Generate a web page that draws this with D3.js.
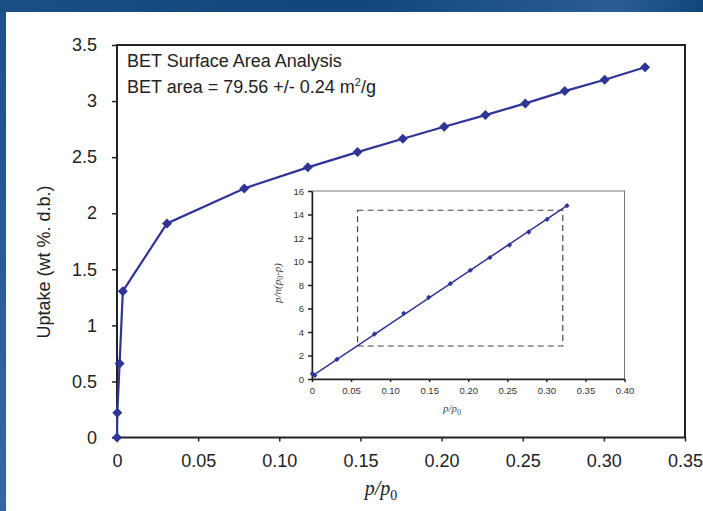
<!DOCTYPE html>
<html>
<head>
<meta charset="utf-8">
<script src="https://cdn.jsdelivr.net/npm/d3@7"></script>
<style>
  body { margin: 0; background: #fff; }
  svg { display: block; }
  .tick text { font-family: "Liberation Sans", Arial, sans-serif; }
</style>
</head>
<body>
<svg width="703" height="511"></svg>
<script>
// DATA

// main isotherm: p/p0 vs uptake (wt %)
var mainX = [0, 0.0002, 0.0016, 0.0036, 0.0308, 0.0784, 0.1176, 0.1482, 0.1761, 0.2016, 0.2270, 0.2516, 0.2759, 0.3005, 0.3254];
var mainY = [0, 0.22, 0.66, 1.305, 1.909, 2.221, 2.409, 2.545, 2.664, 2.771, 2.875, 2.979, 3.089, 3.190, 3.301];

var xTicks = [0, 0.05, 0.10, 0.15, 0.20, 0.25, 0.30, 0.35];
var xTickLabels = ["0", "0.05", "0.10", "0.15", "0.20", "0.25", "0.30", "0.35"];
var yTicks = [0, 0.5, 1, 1.5, 2, 2.5, 3, 3.5];
var yTickLabels = ["0", "0.5", "1", "1.5", "2", "2.5", "3", "3.5"];

// inset BET plot
var insetX = [0.0005, 0.0035, 0.0319, 0.0800, 0.1174, 0.1494, 0.1770, 0.2026, 0.2277, 0.2528, 0.2774, 0.3009, 0.3264];
var insetY = [0.45, 0.3, 1.67, 3.83, 5.59, 6.95, 8.11, 9.25, 10.33, 11.40, 12.51, 13.59, 14.75];
var fitX = [0, 0.3264];
var fitY = [0.25, 14.75];
var rangeX = [0.0583, 0.321];   // dashed fit window
var rangeY = [2.81, 14.36];

var insetXTicks = [0, 0.05, 0.10, 0.15, 0.20, 0.25, 0.30, 0.35, 0.40];
var insetXTickLabels = ["0", "0.05", "0.10", "0.15", "0.20", "0.25", "0.30", "0.35", "0.40"];
var insetYTicks = [0, 2, 4, 6, 8, 10, 12, 14, 16];
var insetYTickLabels = ["0", "2", "4", "6", "8", "10", "12", "14", "16"];

var blue = "#2f3596";

// SETUP

var svg = d3.select("svg");
var defs = svg.append("defs");

var band = defs.append("linearGradient").attr("id", "band");
band.append("stop").attr("offset", "0%").attr("stop-color", "#1a4f86");
band.append("stop").attr("offset", "50%").attr("stop-color", "#104679");
band.append("stop").attr("offset", "88%").attr("stop-color", "#2a5e94");
band.append("stop").attr("offset", "100%").attr("stop-color", "#0f4678");

var strip = defs.append("linearGradient").attr("id", "strip")
    .attr("x1", 0).attr("y1", 0).attr("x2", 0).attr("y2", 1);
strip.append("stop").attr("offset", "0%").attr("stop-color", "#1c5088");
strip.append("stop").attr("offset", "100%").attr("stop-color", "#3867a0");

svg.append("rect").attr("x", 0).attr("y", 0).attr("width", 703).attr("height", 511).attr("fill", "#fff");
svg.append("rect").attr("x", 0).attr("y", 0).attr("width", 6).attr("height", 511).attr("fill", "url(#strip)");
svg.append("rect").attr("x", 0).attr("y", 0).attr("width", 703).attr("height", 12).attr("fill", "url(#band)");

var diamond = function (s) {
    return d3.symbol().type(d3.symbolSquare).size(s)();
};

// MAIN CHART

var m = { left: 117, top: 45, right: 685, bottom: 437.5 };
var x = d3.scaleLinear().domain([0, 0.35]).range([m.left, m.right]);
var y = d3.scaleLinear().domain([0, 3.5]).range([m.bottom, m.top]);

var xAxis = svg.append("g")
    .attr("transform", "translate(0," + m.bottom + ")")
    .call(d3.axisBottom(x).tickValues(xTicks).tickSize(4).tickPadding(13)
        .tickFormat(function (d, i) { return xTickLabels[i]; }));

var yAxis = svg.append("g")
    .attr("transform", "translate(" + m.left + ",0)")
    .call(d3.axisLeft(y).tickValues(yTicks).tickSize(5).tickPadding(15)
        .tickFormat(function (d, i) { return yTickLabels[i]; }));

[xAxis, yAxis].forEach(function (a) {
    a.select(".domain").remove();
    a.selectAll(".tick line").attr("stroke", "#222").attr("stroke-width", 1.5);
    a.selectAll(".tick text").attr("font-size", 18).attr("fill", "#222");
});

svg.append("rect")
    .attr("x", m.left).attr("y", m.top)
    .attr("width", m.right - m.left).attr("height", m.bottom - m.top)
    .attr("fill", "none").attr("stroke", "#222").attr("stroke-width", 2);

svg.append("text")
    .attr("transform", "translate(50," + 262 + ") rotate(-90)")
    .attr("text-anchor", "middle")
    .attr("font-family", "Liberation Sans, Arial, sans-serif")
    .attr("font-size", 18).attr("fill", "#222")
    .text("Uptake (wt %. d.b.)");

var xt = svg.append("text")
    .attr("x", 381).attr("y", 495)
    .attr("text-anchor", "middle")
    .attr("font-family", "Liberation Serif, Times New Roman, serif")
    .attr("font-style", "italic").attr("font-size", 20).attr("fill", "#222");
xt.append("tspan").text("p/p");
xt.append("tspan").attr("font-size", 14).attr("dy", 5).attr("font-style", "normal").text("0");

var note = svg.append("g")
    .attr("font-family", "Liberation Sans, Arial, sans-serif")
    .attr("font-size", 18).attr("fill", "#222");
note.append("text").attr("x", 127).attr("y", 67).text("BET Surface Area Analysis");
var l2 = note.append("text").attr("x", 127).attr("y", 93);
l2.append("tspan").text("BET area = 79.56 +/- 0.24 m");
l2.append("tspan").attr("font-size", 11).attr("dy", -7).text("2");
l2.append("tspan").attr("dy", 7).text("/g");

var mainPts = mainX.map(function (d, i) { return [d, mainY[i]]; });

svg.append("path")
    .datum(mainPts)
    .attr("fill", "none").attr("stroke", blue).attr("stroke-width", 2.2)
    .attr("d", d3.line().x(function (d) { return x(d[0]); }).y(function (d) { return y(d[1]); }));

svg.append("g").selectAll("path")
    .data(mainPts)
    .enter().append("path")
    .attr("d", diamond(50))
    .attr("fill", blue)
    .attr("transform", function (d) { return "translate(" + x(d[0]) + "," + y(d[1]) + ") rotate(45)"; });

// INSET

var n = { left: 312, top: 191, right: 624.5, bottom: 379 };
var ix = d3.scaleLinear().domain([0, 0.40]).range([n.left, n.right]);
var iy = d3.scaleLinear().domain([0, 16]).range([n.bottom, n.top]);

svg.append("rect")
    .attr("x", n.left).attr("y", n.top)
    .attr("width", n.right - n.left).attr("height", n.bottom - n.top)
    .attr("fill", "#fff").attr("stroke", "#777").attr("stroke-width", 1);

var ixAxis = svg.append("g")
    .attr("transform", "translate(0," + n.bottom + ")")
    .call(d3.axisBottom(ix).tickValues(insetXTicks).tickSizeInner(3).tickSizeOuter(0).tickPadding(5)
        .tickFormat(function (d, i) { return insetXTickLabels[i]; }));

var iyAxis = svg.append("g")
    .attr("transform", "translate(" + n.left + ",0)")
    .call(d3.axisLeft(iy).tickValues(insetYTicks).tickSizeInner(4).tickSizeOuter(0).tickPadding(4)
        .tickFormat(function (d, i) { return insetYTickLabels[i]; }));

[ixAxis, iyAxis].forEach(function (a) {
    a.select(".domain").attr("stroke", "#222").attr("stroke-width", 1.5);
    a.selectAll(".tick line").attr("stroke", "#222").attr("stroke-width", 1.5);
    a.selectAll(".tick text").attr("font-size", 9.5).attr("fill", "#333");
});

svg.append("rect")
    .attr("x", ix(rangeX[0])).attr("y", iy(rangeY[1]))
    .attr("width", ix(rangeX[1]) - ix(rangeX[0])).attr("height", iy(rangeY[0]) - iy(rangeY[1]))
    .attr("fill", "none").attr("stroke", "#444").attr("stroke-width", 1.2)
    .attr("stroke-dasharray", "6,4");

svg.append("line")
    .attr("x1", ix(fitX[0])).attr("y1", iy(fitY[0]))
    .attr("x2", ix(fitX[1])).attr("y2", iy(fitY[1]))
    .attr("stroke", blue).attr("stroke-width", 1.5);

svg.append("g").selectAll("path")
    .data(insetX)
    .enter().append("path")
    .attr("d", diamond(14))
    .attr("fill", blue)
    .attr("transform", function (d, i) { return "translate(" + ix(d) + "," + iy(insetY[i]) + ") rotate(45)"; });

var ixt = svg.append("text")
    .attr("x", 452).attr("y", 412)
    .attr("text-anchor", "middle")
    .attr("font-family", "Liberation Serif, Times New Roman, serif")
    .attr("font-style", "italic").attr("font-size", 11).attr("fill", "#444");
ixt.append("tspan").text("p/p");
ixt.append("tspan").attr("font-size", 8).attr("dy", 2.5).attr("font-style", "normal").text("0");

var iyt = svg.append("text")
    .attr("transform", "translate(281,283) rotate(-90)")
    .attr("text-anchor", "middle")
    .attr("font-family", "Liberation Serif, Times New Roman, serif")
    .attr("font-style", "italic").attr("font-size", 11).attr("fill", "#444");
iyt.append("tspan").text("p/n(p");
iyt.append("tspan").attr("font-size", 8).attr("dy", 2).attr("font-style", "normal").text("0");
iyt.append("tspan").attr("dy", -2).text("-p)");
</script>
</body>
</html>
